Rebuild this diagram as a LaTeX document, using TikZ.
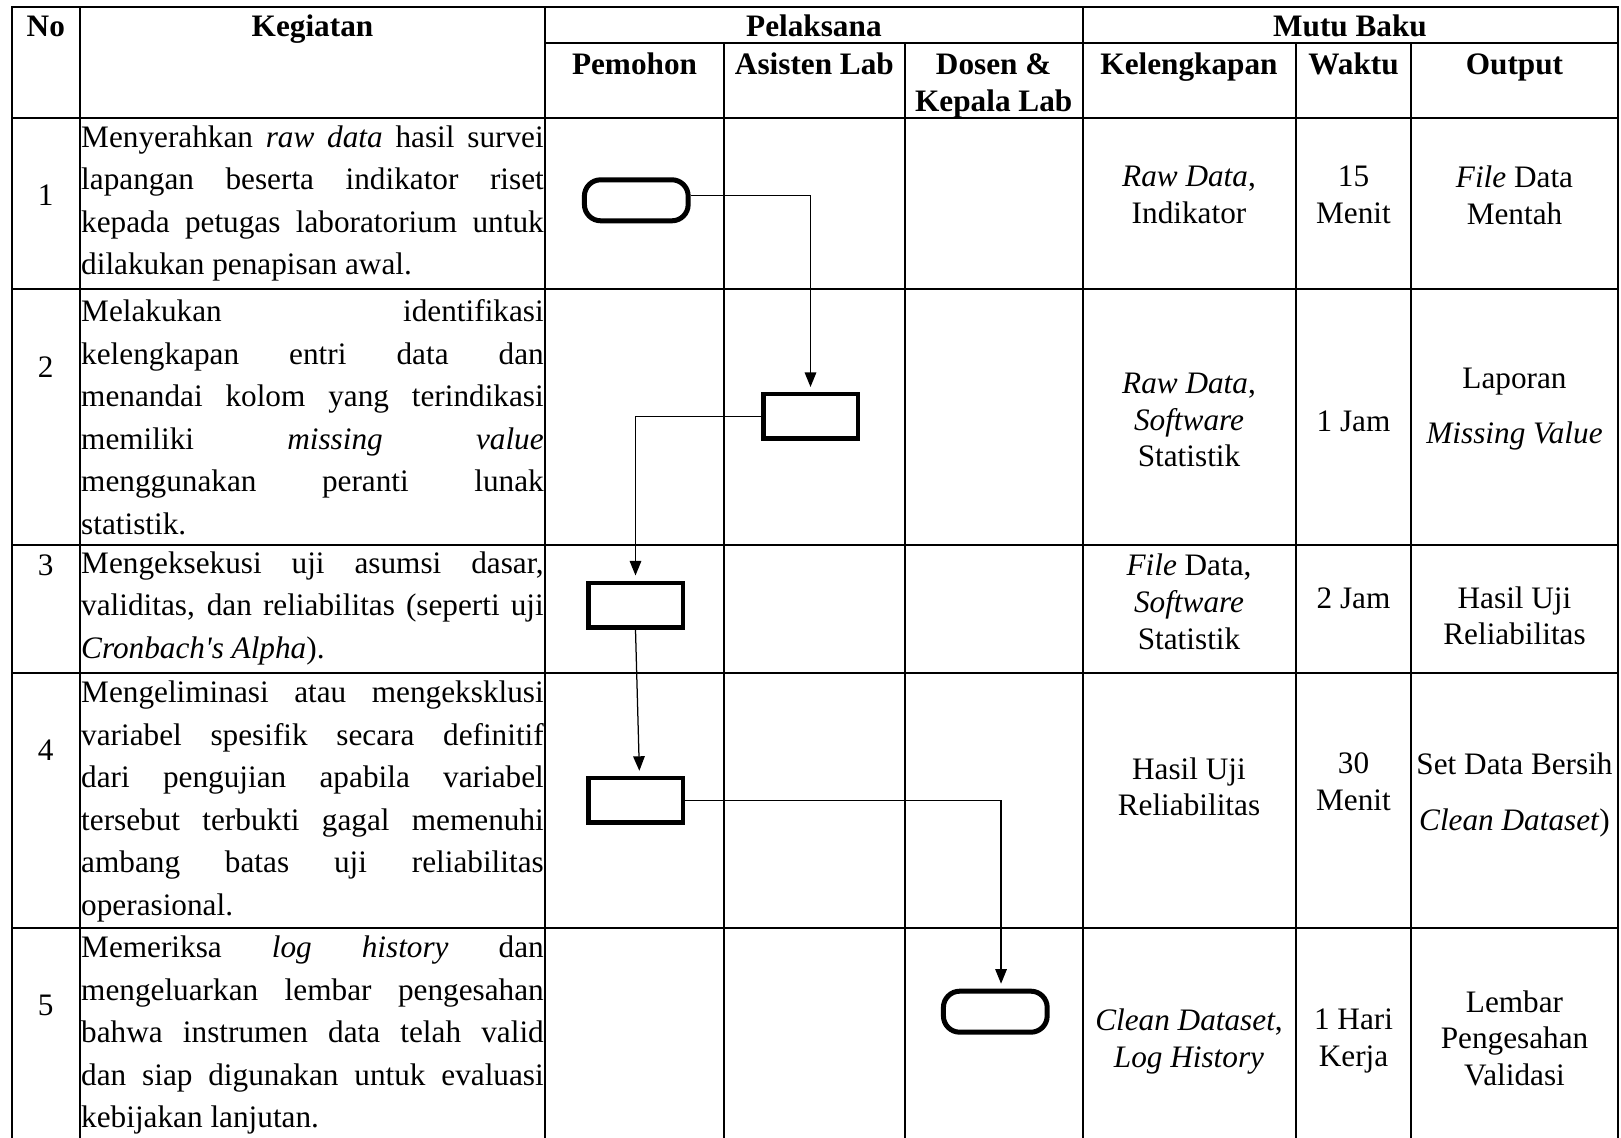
\documentclass[tikz,border=0pt]{standalone}
\usepackage{amsmath}
\usepackage{fontspec}
\setmainfont{Liberation Serif}
\usepackage{tikz}
\usetikzlibrary{arrows.meta}
\tolerance=10000
\hyphenpenalty=10000

\begin{document}
\begin{tikzpicture}[
		x = 0.4pt, y = -0.4pt,  % one unit = one pixel of the sketch
		every node/.style = {inner sep = 0pt, font = \fontsize{12.5}{14.7}\selectfont},
		grid/.style = {line width = 0.8pt},
		terminal/.style = {draw, line width = 2pt, rounded corners = 6.5pt, minimum width = 41.5pt, minimum height = 16.4pt},
		proses/.style = {draw, line width = 1.8pt, minimum width = 37.8pt, minimum height = 17.8pt},
		flow/.style = {line width = 0.5pt, shorten > = 2pt, -{Triangle[length = 5.8pt, width = 4.6pt]}},
		cell/.style = {align = center},
		kegiatan/.style = {text width = 185pt, align = justify, font = \fontsize{12.5}{17}\selectfont}
		]
		\useasboundingbox (0,0) rectangle (1621,1138);
		
		% table lines
		\draw[grid] (11.5,1138) -- (11.5,6.7) -- (1618,6.7) -- (1618,1138);
		\draw[grid] (545,43.3) -- (1618,43.3);
		\draw[grid] (11.5,118.3) -- (1618,118.3)
			(11.5,289.3) -- (1618,289.3)
			(11.5,545) -- (1618,545)
			(11.5,673.3) -- (1618,673.3)
			(11.5,928.3) -- (1618,928.3);
		\draw[grid] (80,6.7) -- (80,1138)
			(545,6.7) -- (545,1138)
			(1082.7,6.7) -- (1082.7,1138)
			(724,43.3) -- (724,1138)
			(904.7,43.3) -- (904.7,1138)
			(1296,43.3) -- (1296,1138)
			(1411,43.3) -- (1411,1138);
		
		% header
		\begin{scope}[nodes = {anchor = base, font = \bfseries\fontsize{12.5}{14}\selectfont}]
			\node (No) at (45.8,36.5) {No};
			\node (Kegiatan) at (312.5,36.5) {Kegiatan};
			\node (Pelaksana) at (813.9,36.5) {Pelaksana};
			\node (MutuBaku) at (1350,36.5) {Mutu Baku};
			\node (Pemohon) at (634.5,75) {Pemohon};
			\node (Asisten) at (814.4,75) {Asisten Lab};
			\node (Dosen) at (993.7,75) {Dosen \&};
			\node (Kepala) at (993.7,112) {Kepala Lab};
			\node (Kelengkapan) at (1189,75) {Kelengkapan};
			\node (Waktu) at (1353.5,75) {Waktu};
			\node (Output) at (1514.5,75) {Output};
		\end{scope}
		
		% nomor dan kegiatan
		\node (No1) at (45.8,195) {1};
		\node (No2) at (45.8,366.7) {2};
		\node (No3) at (45.8,565) {3};
		\node (No4) at (45.8,750) {4};
		\node (No5) at (45.8,1005) {5};
		\node[kegiatan] (Keg1) at (312.5,203.5) {Menyerahkan \textit{raw data} hasil survei\linebreak
			lapangan beserta indikator riset\linebreak
			kepada petugas laboratorium untuk\linebreak
			dilakukan penapisan awal.};
		\node[kegiatan] (Keg2) at (312.5,417.3) {Melakukan identifikasi\linebreak
			kelengkapan entri data dan\linebreak
			menandai kolom yang terindikasi\linebreak
			memiliki \textit{missing} \textit{value}\linebreak
			menggunakan peranti lunak\linebreak
			statistik.};
		\node[kegiatan] (Keg3) at (312.5,608.3) {Mengeksekusi uji asumsi dasar,\linebreak
			validitas, dan reliabilitas (seperti uji\linebreak
			\textit{Cronbach\textquotesingle s Alpha}).};
		\node[kegiatan] (Keg4) at (312.5,801.7) {Mengeliminasi atau mengeksklusi\linebreak
			variabel spesifik secara definitif\linebreak
			dari pengujian apabila variabel\linebreak
			tersebut terbukti gagal memenuhi\linebreak
			ambang batas uji reliabilitas\linebreak
			operasional.};
		\node[kegiatan] (Keg5) at (312.5,1035) {Memeriksa \textit{log} \textit{history} dan\linebreak
			mengeluarkan lembar pengesahan\linebreak
			bahwa instrumen data telah valid\linebreak
			dan siap digunakan untuk evaluasi\linebreak
			kebijakan lanjutan.};
		
		% mutu baku
		\begin{scope}[nodes = {cell}]
			\node (Kel1) at (1189,195) {\textit{Raw Data},\\Indikator};
			\node (Wkt1) at (1353.5,195) {15\\Menit};
			\node (Out1) at (1514.5,195) {\textit{File} Data\\Mentah};
			\node (Kel2) at (1189,420) {\textit{Raw Data},\\\textit{Software}\\Statistik};
			\node (Wkt2) at (1353.5,421.7) {1 Jam};
			\node (Out2) at (1514.5,409.2) {Laporan\\[7.3pt]\textit{Missing Value}};
			\node (Kel3) at (1189,601.7) {\textit{File} Data,\\\textit{Software}\\Statistik};
			\node (Wkt3) at (1353.5,598.3) {2 Jam};
			\node (Out3) at (1514.5,615.8) {Hasil Uji\\Reliabilitas};
			\node (Kel4) at (1189,786.7) {Hasil Uji\\Reliabilitas};
			\node (Wkt4) at (1353.5,781.7) {30\\Menit};
			\node (Out4) at (1514.5,795) {Set Data Bersih\\[8pt]\textit{Clean Dataset})};
			\node (Kel5) at (1189,1041.7) {\textit{Clean Dataset},\\\textit{Log History}};
			\node (Wkt5) at (1353.5,1040.8) {1 Hari\\Kerja};
			\node (Out5) at (1514.5,1038.3) {Lembar\\Pengesahan\\Validasi};
		\end{scope}
		
		% flowchart
		\node[terminal] (Mulai) at (636.3,200.3) {};
		\node[proses] (Cek) at (810.5,416.5) {};
		\node[proses] (Uji) at (635.5,605) {};
		\node[proses] (Eliminasi) at (635.5,800.3) {};
		\node[terminal] (Selesai) at (995.3,1011.7) {};
		
		\draw[flow] ([yshift = 2pt]Mulai.east) -| (Cek.north);
		\draw[flow] (Cek.west) -| (Uji.north);
		\draw[flow] (Uji.south) -- ([xshift = 1.6pt]Eliminasi.north);
		\draw[flow] (Eliminasi.east) -| ([xshift = 2.3pt]Selesai.north);
	\end{tikzpicture}
\end{document}
